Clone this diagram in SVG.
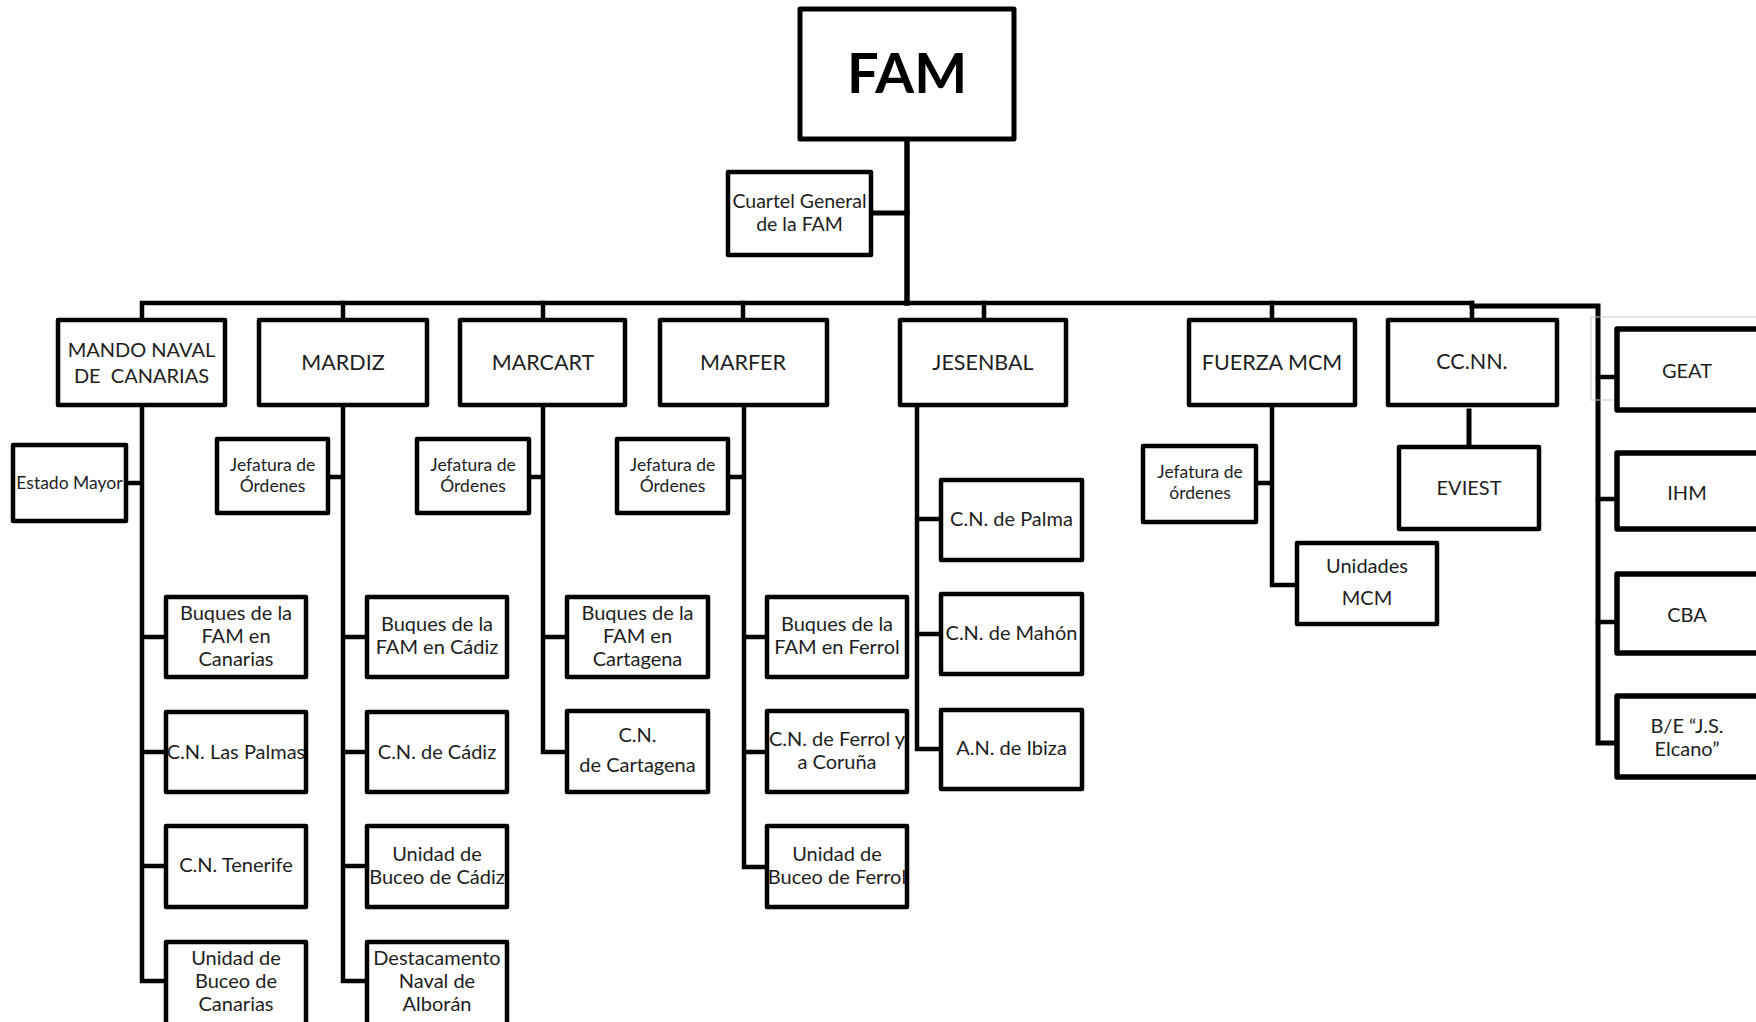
<svg xmlns="http://www.w3.org/2000/svg" width="1756" height="1022" viewBox="0 0 1756 1022">
<style>
.bg{fill:#ffffff}
.box{fill:#ffffff;stroke:#000;stroke-width:4.5;stroke-linejoin:round}
.boxr{fill:#ffffff;stroke:#000;stroke-width:5.5;stroke-linejoin:round}
.ln{fill:none;stroke:#000;stroke-width:4.5;stroke-linejoin:miter;stroke-linecap:square}
.t{font-family:Lato,"Liberation Sans",sans-serif;fill:#1e1e1e;text-anchor:middle}
.l2{font-size:21.5px}
.c{font-size:20px}
.s{font-size:17.5px}
.r{font-size:20px}
.big{font-size:56px;font-weight:bold;fill:#000}
</style>
<rect class="bg" x="0" y="0" width="1756" height="1022"/>
<g id="connectors">
<path class="ln" style="stroke-width:5.5" d="M907,139 V303"/>
<path class="ln" style="stroke-width:5" d="M871,213 H907"/>
<path class="ln" d="M142,320 V303 H1472"/>
<path class="ln" d="M343,303 V320 M543,303 V320 M743,303 V320 M984,303 V320 M1272,303 V320 M1472,303 V320"/>
<path class="ln" style="stroke-width:5" d="M1472,306 H1598 V743 H1617"/>
<path class="ln" d="M1598,377 H1617 M1598,499 H1617 M1598,622 H1617"/>
<path class="ln" d="M142,405 V981 H166 M126,483 H142 M142,637 H166 M142,752 H166 M142,866 H166"/>
<path class="ln" d="M343,405 V981 H367 M328,477 H343 M343,637 H367 M343,752 H367 M343,866 H367"/>
<path class="ln" d="M543,405 V752 H567 M529,477 H543 M543,637 H567"/>
<path class="ln" d="M744,405 V867 H767 M728,477 H744 M744,637 H767 M744,752 H767"/>
<path class="ln" d="M917,405 V749 H941 M917,519 H941 M917,634 H941"/>
<path class="ln" d="M1272,405 V585 H1297 M1256,483 H1272"/>
<path class="ln" style="stroke-width:5" d="M1469,411 V447"/>
</g>
<rect x="1591" y="317" width="180" height="83" fill="none" stroke="#c8c8c8" stroke-width="1"/>
<g id="fam"><rect class="box" style="stroke-width:5" x="800" y="9" width="214" height="130"/><text class="t big" x="907" y="93">FAM</text></g>
<g id="cuartel"><rect class="box" x="728" y="172" width="143" height="83"/><text class="t" style="font-size:19.5px" x="799.5" y="208">Cuartel General</text><text class="t" style="font-size:19.5px" x="799.5" y="231">de la FAM</text></g>
<g id="mnc"><rect class="box" x="58" y="320" width="167" height="85"/><text class="t" style="font-size:20px" x="141.5" y="357">MANDO NAVAL</text><text class="t" style="font-size:20px;white-space:pre" x="141.5" y="383" xml:space="preserve">DE  CANARIAS</text></g>
<g id="mardiz"><rect class="box" x="259" y="320" width="168" height="85"/><text class="t l2" x="343" y="370">MARDIZ</text></g>
<g id="marcart"><rect class="box" x="460" y="320" width="165" height="85"/><text class="t l2" x="543" y="370">MARCART</text></g>
<g id="marfer"><rect class="box" x="660" y="320" width="167" height="85"/><text class="t l2" x="743" y="370">MARFER</text></g>
<g id="jesenbal"><rect class="box" x="900" y="320" width="166" height="85"/><text class="t l2" x="983" y="370">JESENBAL</text></g>
<g id="fuerza"><rect class="box" x="1189" y="320" width="166" height="85"/><text class="t l2" x="1272" y="370">FUERZA MCM</text></g>
<g id="ccnn"><rect class="box" x="1388" y="320" width="169" height="85"/><text class="t l2" x="1472" y="369">CC.NN.</text></g>
<g id="geat"><rect class="boxr" x="1617" y="329" width="160" height="81"/><text class="t r" x="1687" y="378">GEAT</text></g>
<g id="ihm"><rect class="boxr" x="1617" y="453" width="160" height="76"/><text class="t r" x="1687" y="500">IHM</text></g>
<g id="cba"><rect class="boxr" x="1617" y="574" width="160" height="79"/><text class="t r" x="1687" y="622">CBA</text></g>
<g id="elcano"><rect class="boxr" x="1617" y="696" width="160" height="81"/><text class="t r" x="1687" y="733">B/E “J.S.</text><text class="t r" x="1687" y="756">Elcano”</text></g>
<g id="estado-mayor"><rect class="box" x="13" y="445" width="113" height="76"/><text class="t s" x="69.5" y="489">Estado Mayor</text></g>
<g id="jef-mardiz"><rect class="box" x="217" y="439" width="111" height="74"/><text class="t s" x="272.5" y="471">Jefatura de</text><text class="t s" x="272.5" y="492">Órdenes</text></g>
<g id="jef-marcart"><rect class="box" x="417" y="439" width="112" height="74"/><text class="t s" x="473" y="471">Jefatura de</text><text class="t s" x="473" y="492">Órdenes</text></g>
<g id="jef-marfer"><rect class="box" x="617" y="439" width="111" height="74"/><text class="t s" x="672.5" y="471">Jefatura de</text><text class="t s" x="672.5" y="492">Órdenes</text></g>
<g id="jef-fuerza"><rect class="box" x="1143" y="446" width="113" height="76"/><text class="t s" x="1200" y="478">Jefatura de</text><text class="t s" x="1200" y="499">órdenes</text></g>
<g id="buques-canarias"><rect class="box" x="166" y="597" width="140" height="80"/><text class="t c" x="236" y="620">Buques de la</text><text class="t c" x="236" y="643">FAM en</text><text class="t c" x="236" y="666">Canarias</text></g>
<g id="cn-las-palmas"><rect class="box" x="166" y="712" width="140" height="80"/><text class="t c" x="236" y="759">C.N. Las Palmas</text></g>
<g id="cn-tenerife"><rect class="box" x="166" y="826" width="140" height="81"/><text class="t c" x="236" y="872">C.N. Tenerife</text></g>
<g id="buceo-canarias"><rect class="box" x="166" y="942" width="140" height="90"/><text class="t c" x="236" y="965">Unidad de</text><text class="t c" x="236" y="988">Buceo de</text><text class="t c" x="236" y="1011">Canarias</text></g>
<g id="buques-cadiz"><rect class="box" x="367" y="597" width="140" height="80"/><text class="t c" x="437" y="631">Buques de la</text><text class="t c" x="437" y="654">FAM en Cádiz</text></g>
<g id="cn-cadiz"><rect class="box" x="367" y="712" width="140" height="80"/><text class="t c" x="437" y="759">C.N. de Cádiz</text></g>
<g id="buceo-cadiz"><rect class="box" x="367" y="826" width="140" height="81"/><text class="t c" x="437" y="861">Unidad de</text><text class="t c" x="437" y="884">Buceo de Cádiz</text></g>
<g id="alboran"><rect class="box" x="367" y="942" width="140" height="90"/><text class="t c" x="437" y="965">Destacamento</text><text class="t c" x="437" y="988">Naval de</text><text class="t c" x="437" y="1011">Alborán</text></g>
<g id="buques-cartagena"><rect class="box" x="567" y="597" width="141" height="80"/><text class="t c" x="637.5" y="620">Buques de la</text><text class="t c" x="637.5" y="643">FAM en</text><text class="t c" x="637.5" y="666">Cartagena</text></g>
<g id="cn-cartagena"><rect class="box" x="567" y="711" width="141" height="81"/><text class="t c" x="637.5" y="742">C.N.</text><text class="t c" x="637.5" y="772">de Cartagena</text></g>
<g id="buques-ferrol"><rect class="box" x="767" y="597" width="140" height="80"/><text class="t c" x="837" y="631">Buques de la</text><text class="t c" x="837" y="654">FAM en Ferrol</text></g>
<g id="cn-ferrol"><rect class="box" x="767" y="711" width="140" height="81"/><text class="t c" x="837" y="746">C.N. de Ferrol y</text><text class="t c" x="837" y="769">a Coruña</text></g>
<g id="buceo-ferrol"><rect class="box" x="767" y="826" width="140" height="81"/><text class="t c" x="837" y="861">Unidad de</text><text class="t c" x="837" y="884">Buceo de Ferrol</text></g>
<g id="cn-palma"><rect class="box" x="941" y="480" width="141" height="80"/><text class="t c" x="1011.5" y="526">C.N. de Palma</text></g>
<g id="cn-mahon"><rect class="box" x="941" y="594" width="141" height="80"/><text class="t c" x="1011.5" y="640">C.N. de Mahón</text></g>
<g id="an-ibiza"><rect class="box" x="941" y="710" width="141" height="79"/><text class="t c" x="1011.5" y="755">A.N. de Ibiza</text></g>
<g id="unidades-mcm"><rect class="box" x="1297" y="543" width="140" height="81"/><text class="t c" x="1367" y="573">Unidades</text><text class="t c" x="1367" y="605">MCM</text></g>
<g id="eviest"><rect class="box" x="1399" y="447" width="140" height="82"/><text class="t r" x="1469" y="495">EVIEST</text></g>
</svg>
